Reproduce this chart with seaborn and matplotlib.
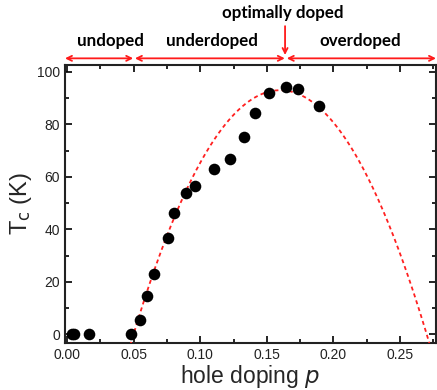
import numpy as np
import pandas as pd
import matplotlib
matplotlib.use("Agg")
import matplotlib.pyplot as plt
from matplotlib.ticker import MultipleLocator
import seaborn as sns

# data
hole_doping = [0.0035, 0.005, 0.0165, 0.048, 0.055, 0.060, 0.065, 0.076, 0.080,
               0.089, 0.096, 0.1105, 0.1225, 0.133, 0.141, 0.1517, 0.1643, 0.1733, 0.189]
tc_values = [0, 0, 0, 0, 5.6, 14.7, 23.0, 36.6, 46.4,
             53.8, 56.4, 62.8, 66.6, 75.3, 84.5, 92.0, 94.3, 93.3, 87.1]

# parabolic (Presland) dome parameters
tc_max = 93.0
p_opt = 0.16
dome_coef = 82.6

region_labels = ["undoped", "underdoped", "overdoped"]
region_bounds = [(-0.0015, 0.0497), (0.051, 0.1635), (0.165, 0.277)]
region_text_x = [0.0323, 0.1088, 0.2198]
optimal_label = "optimally doped"
optimal_x = 0.1637

sns.set_style("ticks")
plt.rcParams['font.family'] = ['Liberation Sans', 'DejaVu Sans']
plt.rcParams['mathtext.default'] = 'regular'

fig = plt.figure(figsize=(4.37, 3.90), dpi=100)
ax = fig.add_axes([0.1487, 0.1213, 0.849, 0.7120])

p_curve = np.linspace(0.04, 0.29, 400)
curve_df = pd.DataFrame({"p": p_curve,
                         "Tc": tc_max * (1 - dome_coef * (p_curve - p_opt) ** 2)})
sns.lineplot(data=curve_df, x="p", y="Tc", ax=ax, color="#ff2020",
             linewidth=1.3, linestyle=(0, (2.2, 1.8)), zorder=3)

pts = pd.DataFrame({"p": hole_doping, "Tc": tc_values})
sns.scatterplot(data=pts, x="p", y="Tc", ax=ax, color="black", s=70,
                edgecolor="black", linewidth=0, zorder=4)

ax.set_xlim(-0.0015, 0.277)
ax.set_ylim(-3.2, 102.6)
ax.xaxis.set_major_locator(MultipleLocator(0.05))
ax.xaxis.set_minor_locator(MultipleLocator(0.025))
ax.yaxis.set_major_locator(MultipleLocator(20))
ax.yaxis.set_minor_locator(MultipleLocator(10))
ax.xaxis.set_major_formatter(matplotlib.ticker.FormatStrFormatter('%.2f'))
ax.tick_params(which='both', direction='in', top=True, right=True,
               labelsize=10, width=1.2, colors='black', labelcolor='#222222')
ax.tick_params(which='major', length=5)
ax.tick_params(which='minor', length=3)
for s in ax.spines.values():
    s.set_linewidth(1.5)
    s.set_color('#222222')

ax.set_xlabel("hole doping $\\it{p}$", fontsize=16.5, labelpad=1)
ax.set_ylabel("T$_\\mathrm{c}$ (K)", fontsize=17, labelpad=2)

trans = ax.get_xaxis_transform()
red = "#ff1a1a"
for (x0, x1), lab, tx in zip(region_bounds, region_labels, region_text_x):
    ax.annotate("", xy=(x1, 1.024), xytext=(x0, 1.024), xycoords=trans,
                textcoords=trans, annotation_clip=False,
                arrowprops=dict(arrowstyle="<->", color=red, lw=1.3,
                                shrinkA=0, shrinkB=0, mutation_scale=9))
    ax.text(tx, 1.0875, lab, transform=trans, ha='center', va='center',
            fontsize=12.2, fontweight='bold', family=['Lato', 'DejaVu Sans'],
            color='black')

ax.annotate("", xy=(optimal_x, 1.036), xytext=(optimal_x, 1.14), xycoords=trans,
            textcoords=trans, annotation_clip=False,
            arrowprops=dict(arrowstyle="->", color=red, lw=1.3,
                            shrinkA=0, shrinkB=0, mutation_scale=9))
ax.text(0.162, 1.187, optimal_label, transform=trans, ha='center', va='center',
        fontsize=12.2, fontweight='bold', family=['Lato', 'DejaVu Sans'],
        color='black')

fig.savefig("out.png", dpi=100)
